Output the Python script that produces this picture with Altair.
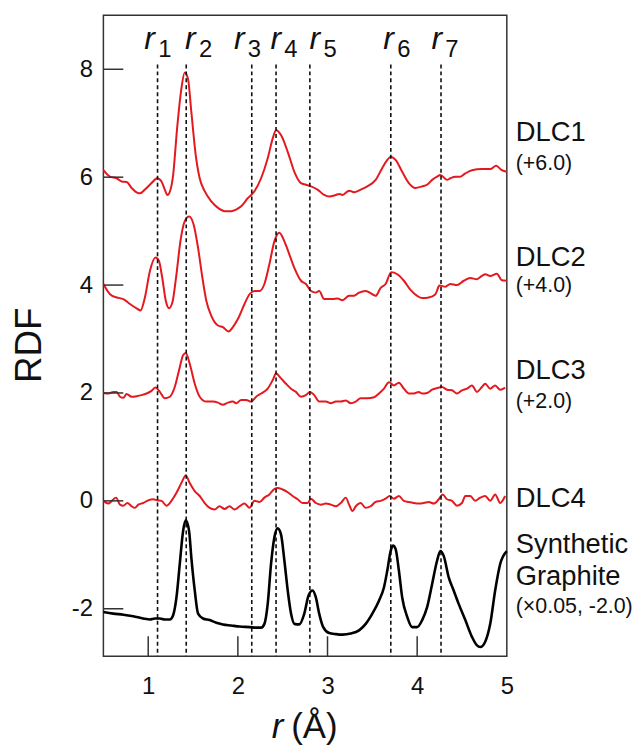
import altair as alt
import pandas as pd

FONT = "Liberation Sans"
RED = "#e3191f"

# peak position markers
r_pos = [1.104, 1.424, 2.155, 2.426, 2.803, 3.706, 4.266]
r_sub = ["1", "2", "3", "4", "5", "6", "7"]
r_label_x = [0.956, 1.411, 1.956, 2.363, 2.80, 3.622, 4.159]

# curves (displayed values, offsets already applied)
dlc1 = [(0.5, 6.13), (0.574, 6.01), (0.648, 5.98), (0.704, 5.92), (0.759, 5.91), (0.815, 5.80),
        (0.870, 5.72), (0.907, 5.70), (0.963, 5.77), (1.037, 5.89), (1.100, 5.98), (1.148, 5.92),
        (1.185, 5.77), (1.215, 5.67), (1.241, 5.73), (1.278, 6.04), (1.322, 6.90), (1.370, 7.64),
        (1.407, 7.94), (1.444, 7.82), (1.481, 7.21), (1.530, 6.41), (1.574, 5.98), (1.630, 5.74),
        (1.704, 5.55), (1.778, 5.43), (1.852, 5.37), (1.926, 5.37), (1.981, 5.40), (2.037, 5.46),
        (2.111, 5.61), (2.185, 5.74), (2.259, 5.98), (2.333, 6.35), (2.389, 6.72), (2.426, 6.87),
        (2.481, 6.78), (2.556, 6.47), (2.630, 6.10), (2.704, 5.89), (2.759, 5.86), (2.815, 5.83),
        (2.889, 5.77), (2.963, 5.67), (3.019, 5.64), (3.093, 5.67), (3.130, 5.69), (3.167, 5.67),
        (3.241, 5.75), (3.296, 5.72), (3.370, 5.77), (3.444, 5.83), (3.537, 5.95), (3.611, 6.17),
        (3.667, 6.32), (3.704, 6.38), (3.759, 6.32), (3.833, 6.10), (3.907, 5.89), (3.981, 5.80),
        (4.056, 5.83), (4.111, 5.86), (4.167, 5.95), (4.222, 6.01), (4.259, 6.04), (4.333, 5.95),
        (4.370, 5.98), (4.426, 6.01), (4.481, 6.01), (4.537, 6.07), (4.611, 6.13), (4.722, 6.15),
        (4.815, 6.15), (4.881, 6.21), (4.944, 6.13), (5.0, 6.10)]

dlc2 = [(0.5, 4.02), (0.574, 3.83), (0.648, 3.77), (0.722, 3.74), (0.796, 3.65), (0.870, 3.57),
        (0.915, 3.53), (0.963, 3.77), (1.019, 4.26), (1.081, 4.51), (1.119, 4.45), (1.156, 4.14),
        (1.196, 3.71), (1.233, 3.57), (1.270, 3.68), (1.315, 4.20), (1.359, 4.81), (1.407, 5.18),
        (1.456, 5.27), (1.507, 5.12), (1.556, 4.69), (1.604, 4.14), (1.648, 3.71), (1.704, 3.43),
        (1.778, 3.25), (1.833, 3.22), (1.896, 3.14), (1.944, 3.22), (2.0, 3.37), (2.074, 3.65),
        (2.130, 3.83), (2.185, 3.89), (2.241, 3.89), (2.296, 4.02), (2.352, 4.39), (2.407, 4.81),
        (2.463, 4.97), (2.519, 4.81), (2.574, 4.57), (2.630, 4.32), (2.704, 4.08), (2.759, 4.02),
        (2.815, 3.89), (2.870, 3.86), (2.907, 3.89), (2.963, 3.74), (3.056, 3.74), (3.111, 3.75),
        (3.167, 3.72), (3.241, 3.80), (3.296, 3.80), (3.352, 3.86), (3.426, 3.89), (3.5, 3.83),
        (3.537, 3.80), (3.593, 3.95), (3.648, 4.02), (3.711, 4.24), (3.778, 4.20), (3.852, 4.08),
        (3.926, 3.91), (4.0, 3.80), (4.056, 3.76), (4.130, 3.77), (4.204, 3.83), (4.248, 3.99),
        (4.315, 3.97), (4.370, 4.02), (4.444, 4.00), (4.519, 4.08), (4.593, 4.13), (4.667, 4.11),
        (4.722, 4.17), (4.759, 4.20), (4.815, 4.17), (4.889, 4.21), (4.944, 4.09), (5.0, 4.08)]

dlc3 = [(0.5, 2.00), (0.556, 1.99), (0.611, 2.02), (0.648, 2.02), (0.685, 1.93), (0.722, 1.91),
        (0.759, 1.98), (0.815, 1.93), (0.870, 1.94), (0.926, 1.96), (0.981, 1.99), (1.037, 2.04),
        (1.081, 2.10), (1.130, 2.02), (1.185, 1.90), (1.241, 1.93), (1.296, 2.11), (1.344, 2.42),
        (1.389, 2.70), (1.419, 2.74), (1.463, 2.54), (1.519, 2.17), (1.574, 1.93), (1.648, 1.84),
        (1.722, 1.84), (1.778, 1.82), (1.833, 1.78), (1.889, 1.82), (1.944, 1.84), (1.981, 1.81),
        (2.037, 1.87), (2.093, 1.87), (2.148, 1.84), (2.204, 1.93), (2.259, 1.99), (2.333, 2.08),
        (2.389, 2.24), (2.426, 2.36), (2.481, 2.27), (2.537, 2.17), (2.593, 2.08), (2.648, 2.02),
        (2.704, 1.93), (2.759, 1.96), (2.804, 2.02), (2.852, 1.96), (2.907, 1.84), (2.981, 1.84),
        (3.037, 1.81), (3.093, 1.84), (3.148, 1.84), (3.204, 1.86), (3.259, 1.81), (3.315, 1.84),
        (3.370, 1.90), (3.444, 1.90), (3.519, 1.92), (3.574, 1.99), (3.630, 2.08), (3.685, 2.20),
        (3.741, 2.14), (3.796, 2.19), (3.852, 2.08), (3.907, 1.99), (3.963, 1.99), (4.019, 2.02),
        (4.056, 1.99), (4.111, 2.00), (4.167, 2.06), (4.222, 2.09), (4.278, 2.11), (4.333, 2.06),
        (4.389, 2.05), (4.444, 1.99), (4.5, 2.05), (4.556, 2.08), (4.611, 2.14), (4.667, 2.02),
        (4.722, 2.11), (4.759, 2.17), (4.815, 2.08), (4.870, 2.14), (4.926, 2.06), (4.981, 2.10)]

dlc4 = [(0.5, 0.00), (0.556, -0.05), (0.593, 0.00), (0.641, 0.06), (0.685, -0.07), (0.722, -0.09),
        (0.767, -0.04), (0.815, -0.10), (0.852, -0.13), (0.889, -0.07), (0.944, -0.04), (1.0, 0.01),
        (1.056, 0.03), (1.1, 0.01), (1.148, 0.00), (1.204, -0.09), (1.259, 0.00), (1.315, 0.15),
        (1.370, 0.33), (1.419, 0.47), (1.463, 0.33), (1.519, 0.18), (1.574, 0.09), (1.630, -0.04),
        (1.685, -0.13), (1.741, -0.16), (1.796, -0.10), (1.852, -0.15), (1.907, -0.10), (1.963, -0.16),
        (2.019, -0.10), (2.074, -0.05), (2.130, -0.13), (2.185, 0.00), (2.241, -0.02), (2.296, 0.06),
        (2.352, 0.12), (2.407, 0.22), (2.444, 0.24), (2.5, 0.21), (2.556, 0.16), (2.611, 0.09),
        (2.667, 0.03), (2.722, -0.04), (2.778, -0.04), (2.815, 0.04), (2.870, -0.04), (2.926, -0.07),
        (2.981, -0.05), (3.037, -0.07), (3.093, -0.10), (3.148, -0.04), (3.204, 0.06), (3.241, -0.07),
        (3.278, -0.19), (3.315, -0.10), (3.370, -0.04), (3.426, -0.13), (3.481, -0.10), (3.537, -0.02),
        (3.593, 0.00), (3.648, 0.04), (3.693, 0.09), (3.741, 0.04), (3.796, 0.09), (3.852, 0.00),
        (3.907, -0.02), (3.963, -0.04), (4.019, -0.05), (4.074, -0.04), (4.130, -0.02), (4.185, -0.05),
        (4.241, 0.03), (4.285, 0.12), (4.333, 0.03), (4.389, 0.00), (4.444, -0.09), (4.5, -0.04),
        (4.537, 0.09), (4.593, 0.09), (4.648, 0.00), (4.704, 0.06), (4.759, 0.09), (4.815, 0.00),
        (4.870, 0.12), (4.926, -0.04), (4.981, 0.09)]

graphite = [(0.5, -2.06), (0.611, -2.09), (0.722, -2.11), (0.833, -2.14), (0.944, -2.18), (1.019, -2.20),
            (1.074, -2.18), (1.130, -2.18), (1.185, -2.20), (1.241, -2.20), (1.278, -2.12), (1.315, -1.79),
            (1.352, -1.17), (1.389, -0.56), (1.419, -0.36), (1.456, -0.56), (1.481, -1.05), (1.519, -1.66),
            (1.556, -2.09), (1.611, -2.18), (1.685, -2.21), (1.759, -2.26), (1.833, -2.29), (1.926, -2.31),
            (2.019, -2.33), (2.130, -2.34), (2.204, -2.35), (2.259, -2.35), (2.296, -2.28), (2.333, -1.91),
            (2.370, -1.17), (2.407, -0.68), (2.444, -0.51), (2.481, -0.62), (2.519, -1.11), (2.556, -1.66),
            (2.593, -2.09), (2.630, -2.28), (2.685, -2.29), (2.741, -2.09), (2.789, -1.75), (2.833, -1.66),
            (2.870, -1.79), (2.907, -2.09), (2.952, -2.34), (3.019, -2.45), (3.093, -2.47), (3.167, -2.48),
            (3.259, -2.46), (3.352, -2.40), (3.426, -2.28), (3.5, -2.09), (3.574, -1.85), (3.630, -1.60),
            (3.667, -1.29), (3.704, -0.93), (3.730, -0.83), (3.759, -0.89), (3.796, -1.29), (3.833, -1.79),
            (3.889, -2.15), (3.944, -2.34), (4.0, -2.34), (4.056, -2.21), (4.111, -1.97), (4.167, -1.54),
            (4.222, -1.11), (4.259, -0.93), (4.296, -1.02), (4.352, -1.42), (4.407, -1.66), (4.463, -1.91),
            (4.537, -2.21), (4.611, -2.52), (4.667, -2.68), (4.704, -2.71), (4.759, -2.61), (4.815, -2.28),
            (4.870, -1.66), (4.926, -1.17), (5.0, -0.93)]

# right-side labels
side_text = ["DLC1", "(+6.0)", "DLC2", "(+4.0)", "DLC3", "(+2.0)", "DLC4",
             "Synthetic", "Graphite", "(\u00d70.05, -2.0)"]
side_y = [6.81, 6.24, 4.51, 3.99, 2.41, 1.83, 0.03, -0.82, -1.41, -1.96]
side_big = [True, False, True, False, True, False, True, True, True, False]

x_ticks = [1, 2, 3, 4]
y_ticks = [-2, 0, 2, 4, 6, 8]


def frame(name, pts):
    return pd.DataFrame({"series": name, "x": [p[0] for p in pts], "y": [p[1] for p in pts]})


red_df = pd.concat([frame("DLC1", dlc1), frame("DLC2", dlc2), frame("DLC3", dlc3), frame("DLC4", dlc4)])
black_df = frame("Synthetic Graphite", graphite)

xs = alt.Scale(domain=[0.5, 5], nice=False, zero=False)
ys = alt.Scale(domain=[-2.88, 9], nice=False, zero=False)

x_axis = alt.Axis(values=[1, 2, 3, 4, 5], tickSize=0, domain=False, grid=False, labelFontSize=24,
                  labelFont=FONT, labelPadding=19, labelColor="#111", title=None, labelFlush=False)
y_axis = alt.Axis(values=y_ticks, tickSize=0, domain=False, grid=False, labelFontSize=24,
                  labelFont=FONT, labelPadding=11, labelColor="#111", title=None,
                  labelExpr="'' + datum.value", labelFlush=False)


def X(field):
    return alt.X(field, scale=xs, axis=x_axis, title=None)


def Y(field):
    return alt.Y(field, scale=ys, axis=y_axis, title=None)


def XD(v):
    return alt.XDatum(v, scale=xs, axis=x_axis, type="quantitative")


def YD(v):
    return alt.YDatum(v, scale=ys, axis=y_axis, type="quantitative")


red = alt.Chart(red_df).mark_line(color=RED, strokeWidth=2, interpolate="monotone").encode(
    x=X("x:Q"), y=Y("y:Q"), detail="series:N",
)

black = alt.Chart(black_df).mark_line(color="#000000", strokeWidth=2.6, interpolate="monotone").encode(
    x=X("x:Q"), y=Y("y:Q"),
)

r_df = pd.DataFrame({"r": r_pos, "sub": r_sub, "lx": r_label_x})

rules = alt.Chart(r_df).mark_rule(color="#111", strokeWidth=1.6, strokeDash=[4, 3]).encode(
    x=X("r:Q"), y=YD(8.09), y2=alt.datum(-2.88),
)

r_text = alt.Chart(r_df).mark_text(text="r", font=FONT, fontStyle="italic", fontSize=32,
                                   align="left", baseline="alphabetic", color="#111").encode(
    x=X("lx:Q"), y=YD(8.37),
)
r_subtext = alt.Chart(r_df).mark_text(font=FONT, fontSize=24, align="left", baseline="alphabetic",
                                      dx=14, color="#111").encode(
    x=X("lx:Q"), y=YD(8.22), text="sub:N",
)

xt = alt.Chart(pd.DataFrame({"t": x_ticks})).mark_rule(color="#333", strokeWidth=1.5).encode(
    x=X("t:Q"), y=YD(-2.88), y2=alt.datum(-2.51),
)
yt = alt.Chart(pd.DataFrame({"t": y_ticks})).mark_rule(color="#333", strokeWidth=1.5).encode(
    y=Y("t:Q"), x=XD(0.5), x2=alt.datum(0.722),
)

side_df = pd.DataFrame({"text": side_text, "y": side_y, "big": side_big})
side_big_t = alt.Chart(side_df).transform_filter("datum.big").mark_text(
    font=FONT, fontSize=27.5, align="left", baseline="middle", color="#111").encode(
    x=alt.value(415), y=Y("y:Q"), text="text:N")
side_small_t = alt.Chart(side_df).transform_filter("!datum.big").mark_text(
    font=FONT, fontSize=21.5, align="left", baseline="middle", color="#111").encode(
    x=alt.value(415), y=Y("y:Q"), text="text:N")

title_df = pd.DataFrame({"a": [0]})
y_title = alt.Chart(title_df).mark_text(text="RDF", font=FONT, fontSize=37, angle=270,
                                        align="center", baseline="middle", color="#111").encode(
    x=alt.value(-74), y=alt.value(332))
x_title_r = alt.Chart(title_df).mark_text(text="r", font=FONT, fontStyle="italic", fontSize=35,
                                          align="right", baseline="alphabetic", color="#111").encode(
    x=alt.value(181), y=alt.value(727))
x_title_u = alt.Chart(title_df).mark_text(text="(\u00c5)", font=FONT, fontSize=35,
                                          align="left", baseline="alphabetic", color="#111").encode(
    x=alt.value(189), y=alt.value(727))

chart = alt.layer(
    red, rules, black, xt, yt, r_text, r_subtext, side_big_t, side_small_t,
    y_title, x_title_r, x_title_u,
).properties(
    width=406, height=645,
    padding={"left": 96, "top": 5, "right": 129, "bottom": 94},
    autosize=alt.AutoSizeParams(type="none"),
).configure_view(stroke="#333", strokeWidth=1.5)

chart.save("out.html", embed_options={"renderer": "svg", "actions": False})
